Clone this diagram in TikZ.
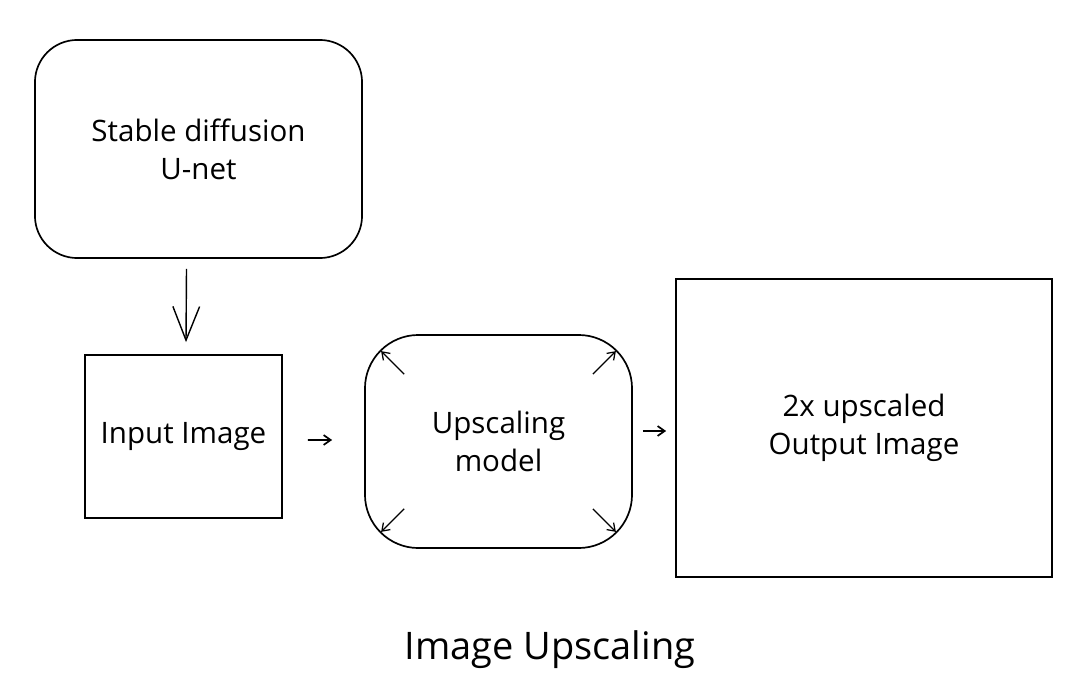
\documentclass[tikz,border=0pt]{standalone}
\usepackage{fontspec}
\setmainfont{Open Sans}
\usetikzlibrary{arrows.meta,calc}

\begin{document}
\begin{tikzpicture}[x=0.025cm, y=-0.025cm, line width=1.2pt,
  >={Straight Barb[length=5pt,width=7pt]},
  box/.style={draw, align=center, inner sep=0pt, font=\fontsize{21}{27}\selectfont},
  bigtip/.style={-{Straight Barb[length=24pt,width=19pt]}, line width=1pt},
  spread/.style={->, line width=0.9pt}]

\useasboundingbox (0,0) rectangle (1080,690);

% Boxes
\node[box, rounded corners=30pt, minimum width=8.175cm, minimum height=5.45cm] (unet) at (198.5,149) {Stable diffusion\\U-net};
\node[box, minimum width=4.925cm, minimum height=4.075cm] (input) at (183.5,436.5) {Input Image};
\node[box, rounded corners=38pt, minimum width=6.675cm, minimum height=5.325cm] (model) at (498.5,441.5) {Upscaling\\model};
\node[box, minimum width=9.4cm, minimum height=7.45cm] (output) at (864,428) {2x upscaled\\Output Image};

% Caption
\node[font=\fontsize{27}{32}\selectfont] (caption) at (550,650) {Image Upscaling};

% U-net to input image
\draw[bigtip] ($(unet.south)+(-12,10)$) -- ($(input.north)+(2.5,-12)$);

% Small arrows between the boxes
\draw[->] ($(input.east)+(25,3.5)$) -- ($(model.west)+(-32,-1.5)$);
\draw[->] ($(model.east)+(10,-10.5)$) -- ($(output.west)+(-9,3)$);

% Arrows pointing out of the upscaling model
\foreach \a/\sx/\sy in {north west/1/1, north east/-1/1, south west/1/-1, south east/-1/-1}
  \draw[spread] ($(model.\a)+(40*\sx,40*\sy)$) -- ($(model.\a)+(17*\sx,17*\sy)$);

\end{tikzpicture}
\end{document}
